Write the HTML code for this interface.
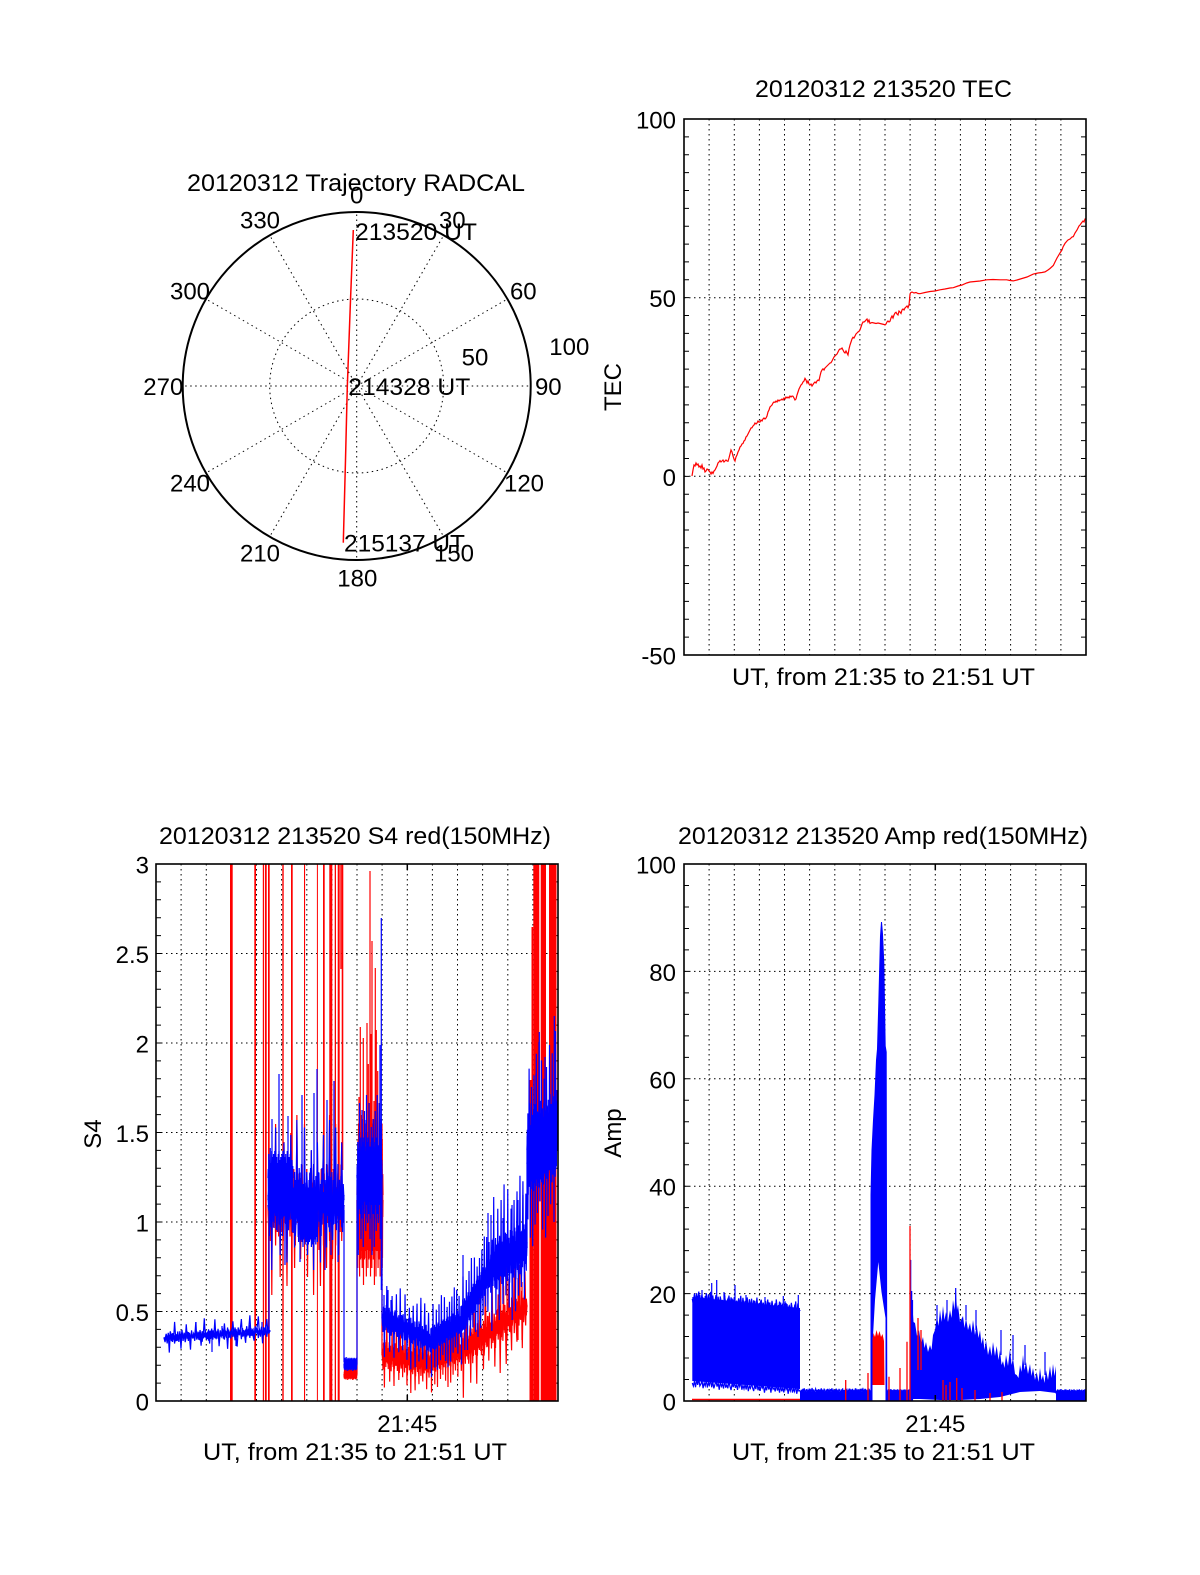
<!DOCTYPE html>
<html><head><meta charset="utf-8"><style>
body{margin:0;background:#fff}
svg{display:block}
text{font-family:"Liberation Sans",Arial,sans-serif;font-size:24px;fill:#000}
</style></head><body>
<svg width="1200" height="1575" viewBox="0 0 1200 1575" xmlns="http://www.w3.org/2000/svg">
<defs>
<polyline id="n" fill="none" vector-effect="non-scaling-stroke" points="0,0 1,.6 2,-.4 3,.8 4,-.7 5,.3 6,-.9 7,.5 8,.1 9,-.6 10,.9 11,-.2 12,.4 13,-.8 14,.7 15,-.3 16,.2 17,-1 18,.6 19,-.5 20,.8 21,0 22,-.7 23,.4 24,-.4 25,1 26,-.6 27,.3 28,-.2 29,.7 30,-.9 31,.5 32,-.1 33,.6 34,-.8 35,.2 36,.9 37,-.5 38,.3 39,-.7 40,.4 41,-.3 42,.8 43,-.6 44,.1 45,-.9 46,.7 47,-.2 48,.5 49,-.4 50,.6 51,-.8 52,.9 53,-.1 54,.3 55,-.7 56,.2 57,.8 58,-.5 59,.4 60,-.9 61,.6 62,-.3 63,.7 64,-.6 65,.1 66,-.4 67,1 68,-.2 69,.5 70,-.8 71,.3 72,-.5 73,.9 74,-.7 75,.2 76,-.1 77,.6 78,-.9 79,.4 80,-.3 81,.8 82,-.6 83,.5 84,-.2 85,.7 86,-.8 87,.1 88,-.5 89,.9 90,-.4 91,.3 92,-.7 93,.6 94,-.1 95,.4 96,-.9 97,.8 98,-.3 99,.2 100,0"/>
<polyline id="m" fill="none" vector-effect="non-scaling-stroke" points="0,0 1,-.3 2,.9 3,-.8 4,.2 5,.5 6,-.6 7,-.1 8,.7 9,-1 10,.4 11,.1 12,-.5 13,.8 14,-.2 15,-.9 16,.6 17,.3 18,-.7 19,.9 20,-.4 21,.2 22,-.8 23,.6 24,0 25,-.5 26,.7 27,-.9 28,.3 29,.5 30,-.2 31,-.6 32,.8 33,-.3 34,.1 35,-.7 36,.9 37,.4 38,-.5 39,-.1 40,.6 41,-.8 42,.2 43,.7 44,-.9 45,.3 46,-.4 47,.8 48,-.6 49,.1 50,.5 51,-.7 52,-.2 53,.9 54,-.5 55,.3 56,-.8 57,.6 58,-.1 59,.4 60,-.9 61,.7 62,.2 63,-.6 64,.8 65,-.3 66,-.7 67,.5 68,.1 69,-.4 70,.9 71,-.8 72,.3 73,-.2 74,.6 75,-.5 76,.7 77,-.9 78,.4 79,0 80,-.6 81,.8 82,-.3 83,.2 84,-.7 85,.9 86,-.1 87,-.5 88,.6 89,-.8 90,.3 91,.4 92,-.9 93,.7 94,-.2 95,.5 96,-.6 97,.1 98,.8 99,-.4 100,0"/>
<polyline id="s" fill="none" vector-effect="non-scaling-stroke" points="0,0 1,.2 2,-.1 3,.3 4,-.2 5,1 6,-.3 7,.1 8,-.2 9,.2 10,-.9 11,.1 12,.3 13,-.1 14,.2 15,-.3 16,.8 17,-.2 18,.1 19,-.1 20,.3 21,-.7 22,.2 23,-.2 24,.1 25,.9 26,-.3 27,.2 28,-.1 29,.1 30,-.8 31,.3 32,-.2 33,.2 34,-.1 35,.7 36,-.2 37,.1 38,-1 39,.2 40,-.1 41,.3 42,-.3 43,.6 44,-.2 45,.1 46,-.1 47,.2 48,-.9 49,.3 50,.1 51,-.2 52,.8 53,-.1 54,.2 55,-.3 56,.1 57,-.6 58,.2 59,-.1 60,1 61,-.2 62,.3 63,-.1 64,.1 65,-.7 66,.2 67,-.3 68,.2 69,.9 70,-.1 71,.1 72,-.2 73,-.8 74,.3 75,-.1 76,.2 77,.7 78,-.3 79,.1 80,-.2 81,-1 82,.2 83,-.1 84,.3 85,.6 86,-.2 87,.1 88,-.3 89,-.9 90,.2 91,.1 92,-.1 93,.8 94,-.2 95,.3 96,-.1 97,-.7 98,.1 99,.2 100,0"/>
<clipPath id="cs"><rect x="156" y="864" width="402" height="537"/></clipPath>
<clipPath id="ca"><rect x="684" y="864" width="402" height="537"/></clipPath>
<clipPath id="ct"><rect x="684" y="119" width="402" height="536"/></clipPath>
</defs>

<!-- ============ POLAR ============ -->
<g fill="none" stroke="#000" stroke-width="1" stroke-dasharray="1.5 3.5">
<circle cx="356.7" cy="386" r="87"/>
<path d="M356.7,386L356.7,212 M356.7,386L443.7,235.3 M356.7,386L507.4,299 M356.7,386L530.7,386 M356.7,386L507.4,473 M356.7,386L443.7,536.7 M356.7,386L356.7,560 M356.7,386L269.7,536.7 M356.7,386L206,473 M356.7,386L182.7,386 M356.7,386L206,299 M356.7,386L269.7,235.3"/>
</g>
<circle cx="356.7" cy="386" r="174" fill="none" stroke="#000" stroke-width="2"/>
<polyline points="353.3,230 350.5,300 347.3,386.7 345.5,460 343.3,542.7" fill="none" stroke="#f00" stroke-width="1.5"/>
<text x="187" y="191" textLength="338" lengthAdjust="spacingAndGlyphs">20120312 Trajectory RADCAL</text>
<g text-anchor="middle">
<text x="356.7" y="203.3">0</text>
<text x="260" y="228.3">330</text>
<text x="452.3" y="228.3">30</text>
<text x="190" y="299.3">300</text>
<text x="523.3" y="299.3">60</text>
<text x="569.3" y="355">100</text>
<text x="475" y="365.7">50</text>
<text x="163.3" y="395">270</text>
<text x="548.3" y="395">90</text>
<text x="190" y="491.7">240</text>
<text x="524" y="491.7">120</text>
<text x="260" y="561.7">210</text>
<text x="454" y="561.7">150</text>
<text x="357.3" y="586.7">180</text>
</g>
<text x="355" y="240" textLength="122" lengthAdjust="spacingAndGlyphs">213520 UT</text>
<text x="348.3" y="395" textLength="122" lengthAdjust="spacingAndGlyphs">214328 UT</text>
<text x="344" y="551.7" textLength="121" lengthAdjust="spacingAndGlyphs">215137 UT</text>

<!-- ============ TEC ============ -->
<g fill="none" stroke="#000" stroke-width="1" stroke-dasharray="1.5 3.5">
<path d="M709.1,119V655 M734.3,119V655 M759.4,119V655 M784.5,119V655 M809.6,119V655 M834.8,119V655 M859.9,119V655 M885,119V655 M910.1,119V655 M935.3,119V655 M960.4,119V655 M985.5,119V655 M1010.6,119V655 M1035.8,119V655 M1060.9,119V655 M684,297.7H1086 M684,476.3H1086"/>
</g>
<line x1="686.5" y1="118.5" x2="686.5" y2="655.5" stroke="#000" stroke-width="5" stroke-dasharray="1 16.867"/>
<line x1="1083.5" y1="118.5" x2="1083.5" y2="655.5" stroke="#000" stroke-width="5" stroke-dasharray="1 16.867"/>
<g clip-path="url(#ct)">
<polyline fill="none" stroke="#f00" stroke-width="1.2" points="692,476 693,470 694,465 695,466 696,463 697,465 698,464 699,467 700,466 701,468 702,465 703,469 704,468 705,472 706,471 707,469 708,469.5 709,471 710,472 711,474 712,472 713,473.5 714,471 715,470 716,468 717,466 718,463 719,462 720,460.6 721,462 722,461 723,460 724,462 725,461 726,460 727,461 728,461.3 729,458 730,454 731,450 732,452 733,456 734,459 735,461 736,457 737,455 738,452 739,450 740,447 741,446 742,444 743,443.5 744,441 745,440 746,437 747,436 748,434 749,432 750,430 751,428 752,427.7 753,426 754,425 755,423 756,424 757,423 758,421 759,422 760,422 761,420 762,421 763,419 764,418 765,419 766,418 767,416 768,412 769,410 770,407 771,406 772,405 773,403 774,402 775,402.4 776,401 777,402 778,400 779,401 780,400 781,400 782,399 783,400 784,398 785,399 786,397 787,398 788,397 789,398 790,396 791,397 792,396 793,396.3 794,398 795,400 796,399 797,395 798,392 799,389 800,387 801,385 802,384 803,382 804,381 805,378.4 806,380 807,383 808,381 809,384 810,385 811,384 812,386 813,384.5 814,383 815,382 816,383 817,381 818,380 819,380.6 820,376 821,372 822,370 823,368.8 824,370 825,368 826,367 827,366 828,365 829,364 830,363 831,362.7 832,361 833,359 834,357 835,356 836,355 837,354 838,352 839,350 840,349 841,349 842,348 843,350 844,352 845,353 846,351 847,353 848,355 849,349 850,345 851,342 852,339 853,337.3 854,338 855,336 856,334 857,333 858,332 859,331.3 860,330 861,327 862,324 863,322 864,322 865,321.3 866,320 867,319 868,322 869,320 870,323.4 872,322.5 874,323 876,323.5 878,323 880,323.5 882,324 884,324.5 885,325 886,324 887,322 888,321 889,322 890,321.3 891,318 892,316 893,318 894,315 895,313 896,312.3 897,314 898,315 899,311 900,312 901,313.4 902,310 903,309 904,310 905,308 906,307 907,306 908,307.7 909,305 909.5,300 910,294 910.7,292.7 912,292 914,293 916,292.5 918,293.5 920,293.7 925,292.5 930,291.5 935,291 940,289.8 945,289 950,288 953.3,287.7 958,286 962,285 966.7,283 970,282 975,281.5 980,281 986.7,279.8 993,279.5 1000,279.8 1006.7,279.8 1010,280.5 1013.3,280.9 1017,280 1022,278.5 1027,277 1033.3,274.1 1038,273 1042,272.5 1045,271.9 1048,270 1050,268.5 1053.3,265.5 1055,262 1057,258 1060,253 1062,250 1063,247 1065,243.4 1067,241 1068,240 1070,239 1072,237 1073.3,236.6 1075,233 1077,230 1078,228 1079,226 1080,225 1081.7,222.6 1083,221 1084,222 1085,219 1086,218.7"/>
</g>
<rect x="684" y="119" width="402" height="536" fill="none" stroke="#000" stroke-width="1.6"/>
<text x="755" y="97" textLength="257" lengthAdjust="spacingAndGlyphs">20120312 213520 TEC</text>
<g text-anchor="end">
<text x="676" y="128.5">100</text>
<text x="676" y="307.2">50</text>
<text x="676" y="485.8">0</text>
<text x="676" y="664.5">-50</text>
</g>
<text x="621" y="387" text-anchor="middle" transform="rotate(-90 621 387)">TEC</text>
<text x="732" y="685" textLength="303" lengthAdjust="spacingAndGlyphs">UT, from 21:35 to 21:51 UT</text>

<!-- ============ S4 ============ -->
<g fill="none" stroke="#000" stroke-width="1" stroke-dasharray="1.5 3.5">
<path d="M181.1,864V1401 M206.3,864V1401 M231.4,864V1401 M256.5,864V1401 M281.6,864V1401 M306.8,864V1401 M331.9,864V1401 M357,864V1401 M382.1,864V1401 M407.3,864V1401 M432.4,864V1401 M457.5,864V1401 M482.6,864V1401 M507.8,864V1401 M532.9,864V1401 M156,1311.5H558 M156,1222H558 M156,1132.5H558 M156,1043H558 M156,953.5H558"/>
</g>
<line x1="158.5" y1="863.5" x2="158.5" y2="1401.5" stroke="#000" stroke-width="5" stroke-dasharray="1 16.9"/>
<line x1="555.5" y1="863.5" x2="555.5" y2="1401.5" stroke="#000" stroke-width="5" stroke-dasharray="1 16.9"/>
<g clip-path="url(#cs)">
<g fill="#f00">
<rect x="230" y="864" width="2.7" height="537"/>
<rect x="254.3" y="864" width="1.7" height="537"/>
<rect x="262.8" y="864" width="1.2" height="537"/>
<rect x="264.9" y="864" width="1.8" height="537"/>
<rect x="268" y="864" width="1.7" height="537"/>
<rect x="282.3" y="864" width="1.4" height="537"/>
<rect x="291" y="864" width="1.7" height="537"/>
<rect x="304" y="864" width="1.1" height="537"/>
<rect x="316.9" y="864" width="1" height="537"/>
<rect x="323" y="864" width="1.7" height="537"/>
<rect x="329.3" y="864" width="3" height="537"/>
<rect x="334.7" y="864" width="1.3" height="537"/>
<rect x="337.7" y="864" width="2" height="537"/>
<rect x="340.3" y="864" width="1.4" height="105"/>
<rect x="341.7" y="864" width="1.6" height="306"/>
<rect x="529.5" y="1080" width="2" height="321"/>
<rect x="531.5" y="927" width="1.8" height="474"/>
<rect x="533.3" y="864" width="6" height="537"/>
<rect x="540.7" y="864" width="5.3" height="537"/>
<rect x="546" y="1150" width="3" height="251"/>
<rect x="549" y="864" width="7.5" height="537"/>
</g>
<g stroke="#f00" stroke-width="1.2" fill="none">
<use href="#n" transform="matrix(0.76,0,0,45,268,1205)"/>
<use href="#s" transform="matrix(0.76,0,0,90,268,1205)"/>
<use href="#n" transform="matrix(0.13,0,0,6,344,1374)"/>
<use href="#n" transform="matrix(0.26,0,0,85,357,1200)"/>
<use href="#m" transform="matrix(-0.26,0,0,70,383,1195)"/>
<use href="#m" transform="matrix(0.48,0.1,0,16,382,1355)"/>
<use href="#s" transform="matrix(0.48,0.1,0,35,382,1352)"/>
<use href="#m" transform="matrix(0.30,-0.1,0,15,430,1360)"/>
<use href="#s" transform="matrix(0.30,-0.1,0,35,430,1358)"/>
<use href="#m" transform="matrix(0.67,-0.45,0,22,460,1352)"/>
<use href="#s" transform="matrix(0.67,-0.45,0,50,460,1350)"/>
<path d="M357,1374V1200 M382,1200V1355 M359,1250V1097 M360.3,1250V1027 M363.3,1250V1038 M367,1250V1023 M368.3,1250V1064 M370,1250V871 M371,1250V1034 M372,1250V941 M374,1250V1101 M375.3,1250V968 M376.3,1250V1030 M377.7,1250V1071 M500.7,1340V1252 M518,1340V1278 M522,1340V1282 M507,1340V1265 M485,1345V1290"/>
</g>
<g stroke="#00f" stroke-width="1.2" fill="none">
<use href="#n" transform="matrix(1.06,-0.07,0,7,164,1338)"/>
<use href="#m" transform="matrix(-1.06,0.07,0,-5,270,1331)"/>
<use href="#s" transform="matrix(1.06,-0.07,0,16,164,1337)"/>
<use href="#m" transform="matrix(0.76,0,0,40,268,1200)"/>
<use href="#n" transform="matrix(-0.76,0,0,28,344,1205)"/>
<use href="#s" transform="matrix(0.76,0,0,75,268,1195)"/>
<use href="#m" transform="matrix(0.25,0,0,30,268,1178)"/>
<use href="#n" transform="matrix(0.2,0,0,25,298,1222)"/>
<use href="#n" transform="matrix(0.13,0,0,7,344,1364)"/>
<use href="#m" transform="matrix(0.25,0,0,45,357,1178)"/>
<use href="#n" transform="matrix(-0.25,0,0,30,382,1175)"/>
<use href="#s" transform="matrix(0.25,0,0,80,357,1175)"/>
<use href="#m" transform="matrix(0.48,0.22,0,15,382,1318)"/>
<use href="#s" transform="matrix(0.48,0.22,0,38,382,1318)"/>
<use href="#m" transform="matrix(0.30,-0.18,0,14,430,1340)"/>
<use href="#s" transform="matrix(0.30,-0.18,0,38,430,1340)"/>
<use href="#m" transform="matrix(0.30,-0.5,0,18,460,1322)"/>
<use href="#s" transform="matrix(0.30,-0.5,0,45,460,1322)"/>
<use href="#m" transform="matrix(0.37,-0.2,0,28,490,1268)"/>
<use href="#s" transform="matrix(0.37,-0.2,0,70,490,1262)"/>
<use href="#m" transform="matrix(0.30,-0.2,0,45,527,1150)"/>
<use href="#n" transform="matrix(-0.30,0.2,0,-35,557,1144)"/>
<use href="#s" transform="matrix(-0.30,0.2,0,-100,557,1130)"/>
<path d="M269,1331V1200 M344,1210V1362 M357,1364V1180 M382,1175V1318 M527,1248V1150 M196,1336V1322 M212,1336V1352 M236,1336V1346 M222,1336V1326 M250,1334V1325 M262,1332V1322 M272,1200V1119 M279,1200V1074 M288,1200V1116 M302,1200V1095 M314,1200V1093 M317,1200V1069 M327,1200V1100 M334,1200V1081 M285,1200V1265 M300,1200V1262 M325,1200V1270 M338,1200V1262 M331,1200V1255 M381.3,1290V918 M380,1200V1045 M362,1180V1110 M366,1180V1120 M384,1318V1295 M388,1318V1290 M391,1318V1300 M463,1310V1255 M488,1270V1213 M491,1268V1215 M503,1265V1218 M512,1262V1205 M518,1260V1200 M523,1255V1195 M536,1150V1074 M539.3,1150V1032 M545,1150V1057 M554.3,1150V1016 M557,1150V1090"/>
</g>
</g>
<path d="M407.3,1401V1395 M407.3,864V870" stroke="#000" stroke-width="1.5"/>
<rect x="156" y="864" width="402" height="537" fill="none" stroke="#000" stroke-width="1.6"/>
<text x="159" y="844" textLength="392" lengthAdjust="spacingAndGlyphs">20120312 213520 S4 red(150MHz)</text>
<g text-anchor="end">
<text x="149" y="873.5">3</text>
<text x="149" y="963">2.5</text>
<text x="149" y="1052.5">2</text>
<text x="149" y="1142">1.5</text>
<text x="149" y="1231.5">1</text>
<text x="149" y="1321">0.5</text>
<text x="149" y="1410.5">0</text>
</g>
<text x="101" y="1134" text-anchor="middle" transform="rotate(-90 101 1134)">S4</text>
<text x="407.3" y="1432" text-anchor="middle">21:45</text>
<text x="203" y="1460" textLength="304" lengthAdjust="spacingAndGlyphs">UT, from 21:35 to 21:51 UT</text>

<!-- ============ AMP ============ -->
<g fill="none" stroke="#000" stroke-width="1" stroke-dasharray="1.5 3.5">
<path d="M709.1,864V1401 M734.3,864V1401 M759.4,864V1401 M784.5,864V1401 M809.6,864V1401 M834.8,864V1401 M859.9,864V1401 M885,864V1401 M910.1,864V1401 M935.3,864V1401 M960.4,864V1401 M985.5,864V1401 M1010.6,864V1401 M1035.8,864V1401 M1060.9,864V1401 M684,1293.6H1086 M684,1186.2H1086 M684,1078.8H1086 M684,971.4H1086"/>
</g>
<line x1="686.5" y1="863.5" x2="686.5" y2="1401.5" stroke="#000" stroke-width="5" stroke-dasharray="1 20.48"/>
<line x1="1083.5" y1="863.5" x2="1083.5" y2="1401.5" stroke="#000" stroke-width="5" stroke-dasharray="1 20.48"/>
<g clip-path="url(#ca)">
<line x1="692" y1="1399.5" x2="800" y2="1399.5" stroke="#f00" stroke-width="1.5"/>
<g fill="#00f">
<polygon points="692.3,1297 800,1308 800,1389 692.3,1381"/>
<polygon points="800,1401 800,1392 871,1392 871,1401"/>
<polygon points="870.5,1401 870.5,1195 871.5,1150 873,1120 874.5,1095 876,1060 877,1049 878.3,1003 880,936 881,922 882,922 883,934 884.3,963 885.7,1046 886.7,1052 887.3,1401"/>
<polygon points="887,1401 887,1393 910,1393 910,1401"/>
<polygon points="912,1300 913.5,1322 915,1323 917,1336 919,1330 921,1344 923,1337 924.5,1348 926,1342 928,1352 930,1345 931.5,1350 933,1335 935,1330 937,1316 938.5,1326 940,1310 941.5,1322 943,1306 944.5,1320 946,1312 948,1322 950,1310 951.5,1318 953,1300 954.5,1310 955.7,1288 957,1310 958,1305 960,1322 963,1316 964.5,1328 966,1318 968,1330 970,1323 971.5,1333 973,1320 975,1335 976.7,1325 978.5,1338 980,1330 981.5,1344 983,1337 984.5,1350 986,1340 988,1355 990,1346 991.5,1356 993,1342 995,1356 996.7,1346 998.5,1360 1000,1350 1001.5,1365 1003,1361 1004.5,1368 1006,1355 1008,1366 1010,1349 1011.5,1365 1013,1358 1015,1374 1016.7,1375 1018.5,1378 1020,1365 1021.5,1372 1023,1355 1024.5,1370 1026,1362 1028,1374 1030,1364 1031.5,1376 1033,1368 1035,1380 1036.7,1372 1038.5,1382 1040,1368 1041.5,1380 1043,1375 1044.5,1383 1046,1370 1048,1380 1050,1366 1051.5,1378 1053,1364 1054.5,1376 1056,1366 1056,1393 1040,1391 1020,1392 1000,1397 980,1399 960,1400 940,1400 920,1399 912,1399"/>
<polygon points="1056,1401 1056,1393 1086,1393 1086,1401"/>
</g>
<polygon fill="#fff" points="872.5,1401 872.5,1345 875,1300 878.3,1262 881.5,1292 885.5,1318 885.5,1401"/>
<g stroke="#00f" stroke-width="1.2" fill="none">
<use href="#n" transform="matrix(1.077,0.11,0,9,692.3,1299)"/>
<use href="#m" transform="matrix(-1.077,-0.11,0,-7,800,1310)"/>
<use href="#n" transform="matrix(1.077,0.07,0,5,692.3,1383)"/>
<use href="#n" transform="matrix(0.71,0,0,3,800,1391)"/>
<use href="#n" transform="matrix(0.23,0,0,3,887,1392)"/>
<use href="#n" transform="matrix(0.30,0,0,3,1056,1392)"/>
<path d="M711.7,1310V1283 M716.7,1310V1280 M735,1310V1285 M783.3,1310V1296 M798.3,1310V1295 M702,1310V1290 M724,1310V1292 M746,1310V1295 M765,1310V1297 M910.7,1401V1260 M911.7,1401V1291 M912.5,1401V1300 M937,1320V1305 M947,1320V1300 M955.7,1310V1288 M966,1320V1305 M976,1330V1310 M1001,1355V1330 M1013,1360V1335 M1025,1365V1345 M1045,1375V1352"/>
</g>
<polygon fill="#f00" points="872.5,1385 872.5,1340 873.5,1333 875,1337 876.5,1330 878,1336 879.5,1331 881,1337 882.5,1334 884,1341 884.5,1385"/>
<path stroke="#f00" stroke-width="1.3" fill="none" d="M845.7,1401V1380 M868,1401V1373 M889,1401V1376.7 M900,1401V1368 M907,1401V1341.7 M910,1401V1226 M918,1370V1318 M921,1370V1330 M943,1401V1380 M946,1401V1385 M950,1401V1382 M956.7,1401V1378 M962,1401V1388 M975,1401V1390 M990,1401V1393 M1002,1401V1392"/>
</g>
<path d="M935.3,1401V1395 M935.3,864V870" stroke="#000" stroke-width="1.5"/>
<rect x="684" y="864" width="402" height="537" fill="none" stroke="#000" stroke-width="1.6"/>
<text x="678" y="844" textLength="410" lengthAdjust="spacingAndGlyphs">20120312 213520 Amp red(150MHz)</text>
<g text-anchor="end">
<text x="676" y="873.5">100</text>
<text x="676" y="981">80</text>
<text x="676" y="1088.3">60</text>
<text x="676" y="1195.7">40</text>
<text x="676" y="1303">20</text>
<text x="676" y="1410.5">0</text>
</g>
<text x="621" y="1133" text-anchor="middle" transform="rotate(-90 621 1133)">Amp</text>
<text x="935.3" y="1432" text-anchor="middle">21:45</text>
<text x="732" y="1460" textLength="303" lengthAdjust="spacingAndGlyphs">UT, from 21:35 to 21:51 UT</text>
</svg>
</body></html>
